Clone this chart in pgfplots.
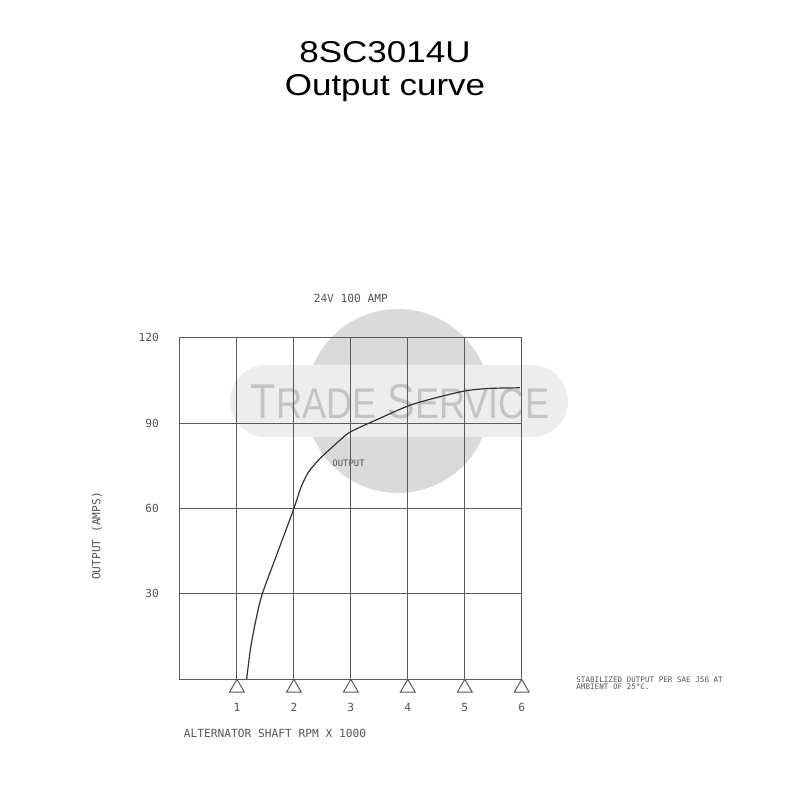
\documentclass[border=0pt]{standalone}
\usepackage{fontspec}
\setmainfont{Liberation Sans}
\newfontfamily\cadfont{DejaVu Sans Mono}
\usepackage{pgfplots}
\pgfplotsset{compat=1.18}

\definecolor{gridgray}{HTML}{5A5A5A}
\definecolor{textgray}{HTML}{555555}
\definecolor{wmcircle}{HTML}{DADADA}
\definecolor{wmpill}{HTML}{EDEDED}
\definecolor{wmtext}{HTML}{C4C4C4}

\newcommand{\cad}{\cadfont\fontsize{5.6}{6.7}\selectfont}

\begin{document}
\begin{tikzpicture}
\path[use as bounding box] (0,0) rectangle (400pt,-400pt);
% pixel coordinates of the 800x800 reference, y downwards
\begin{scope}[x=0.5pt,y=-0.5pt]
  % watermark
  \fill[wmcircle] (398,401) circle (46pt);
  \fill[wmpill, rounded corners=18pt] (230,365) rectangle (568,437);
  \node[anchor=base, inner sep=0, text=wmtext, font=\fontsize{24.5}{25}\selectfont]
    at (400,418) {\scalebox{0.84}[1]{T{\fontsize{21.5}{22}\selectfont RADE} S{\fontsize{21.5}{22}\selectfont ERVICE}}};
  % titles
  \node[anchor=base, inner sep=0, font=\fontsize{17.5}{20}\selectfont]
    at (385,62.3) {\scalebox{1}[0.86]{8SC3014U}};
  \node[anchor=base, inner sep=0, font=\fontsize{17.5}{20}\selectfont]
    at (385,95.7) {\scalebox{1}[0.86]{Output curve}};
  % note
  \node[anchor=north west, inner sep=0, align=left, text=textgray,
        font=\cadfont\fontsize{3.8}{3.9}\selectfont]
    at (576,676) {STABILIZED OUTPUT PER SAE J56 AT\\AMBIENT OF 25°C.};
\end{scope}

\begin{axis}[
  at={(90pt,-339.65pt)}, anchor=south west,
  scale only axis, width=170.85pt, height=170.8pt,
  xmin=0, xmax=6, ymin=0, ymax=120,
  xtick={1,...,6}, ytick={30,60,90,120},
  grid=major, major grid style={gridgray, line width=0.5pt},
  axis line style={gridgray, line width=0.5pt},
  major tick length=0pt,
  tick label style={font=\cad, text=textgray},
  /pgf/number format/assume math mode=true,
  xticklabel style={anchor=center, yshift=-14.2pt},
  yticklabel style={anchor=east, xshift=-7pt},
  title={24V 100 AMP},
  title style={font=\cad, text=textgray, at={(axis description cs:0.5,1.081)}, anchor=center},
  xlabel={ALTERNATOR SHAFT RPM X 1000},
  xlabel style={font=\cad, text=textgray, at={(axis description cs:-0.009,-0.157)}, anchor=west},
  ylabel={OUTPUT (AMPS)},
  ylabel style={font=\cad, text=textgray, at={(axis description cs:-0.243,0.4195)}, anchor=center},
  clip=false,
]
  % supports under the rpm ticks
  \addplot[only marks, mark=triangle, mark size=4.3pt, gridgray,
           mark options={yshift=-4.3pt, line width=0.5pt}]
    coordinates {(1,0)(2,0)(3,0)(4,0)(5,0)(6,0)};
  % output curve
  \addplot[smooth, tension=0.45, black!80, line width=0.6pt] coordinates {
    (1.17,0) (1.24,11) (1.34,21.5) (1.445,30) (1.72,44.9) (2.0,60)
    (2.12,67.2) (2.25,72.6) (2.46,77.6) (2.81,84) (3.0,87)
    (3.51,91.7) (4.04,96.3) (4.57,99.3) (5.03,101.4) (5.44,102.2)
    (5.97,102.4)
  };
  \node[font=\cadfont\fontsize{4.45}{5}\selectfont, text=textgray] at (axis cs:2.96,75.9) {OUTPUT};
\end{axis}
\end{tikzpicture}
\end{document}
